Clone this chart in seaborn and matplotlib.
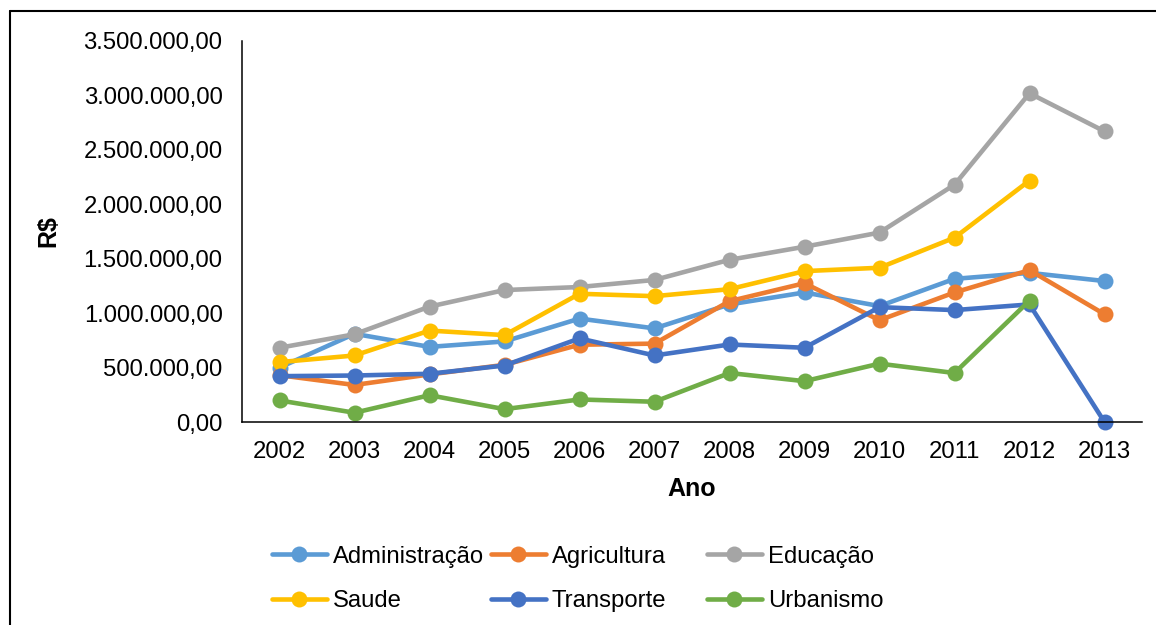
import matplotlib
matplotlib.use("Agg")
import matplotlib.pyplot as plt
import numpy as np
import pandas as pd
import seaborn as sns
from matplotlib.lines import Line2D
from matplotlib.ticker import FuncFormatter, MultipleLocator

# Despesas por função (R$), 2002–2013
anos = [2002, 2003, 2004, 2005, 2006, 2007, 2008, 2009, 2010, 2011, 2012, 2013]
administracao = [500000, 810000, 690000, 740000, 950000, 860000, 1080000, 1190000, 1065000, 1315000, 1370000, 1295000]
agricultura = [430000, 340000, 437000, 525000, 710000, 720000, 1110000, 1275000, 935000, 1190000, 1395000, 990000]
educacao = [682000, 806000, 1060000, 1212000, 1240000, 1305000, 1490000, 1610000, 1740000, 2180000, 3020000, 2670000]
saude = [550000, 611000, 840000, 798000, 1178000, 1156000, 1220000, 1386000, 1417000, 1693000, 2218000, np.nan]
transporte = [421000, 427000, 443000, 519000, 768000, 611000, 712000, 682000, 1055000, 1028000, 1080000, 0]
urbanismo = [198000, 85000, 246000, 118000, 207000, 186000, 450000, 375000, 536000, 450000, 1115000, np.nan]

setores = ["Administração", "Agricultura", "Educação", "Saude", "Transporte", "Urbanismo"]
cores = ["#5B9BD5", "#ED7D31", "#A5A5A5", "#FFC000", "#4472C4", "#70AD47"]
series = [administracao, agricultura, educacao, saude, transporte, urbanismo]

df = pd.concat(
    [pd.DataFrame({"Ano": anos, "Setor": nome, "Valor": vals}) for nome, vals in zip(setores, series)],
    ignore_index=True,
).dropna()

sns.set_style("white")
plt.rcParams["font.family"] = ["Liberation Sans", "DejaVu Sans"]
plt.rcParams["text.color"] = "black"
plt.rcParams["axes.labelcolor"] = "black"

W, H = 1156, 625
fig = plt.figure(figsize=(W / 100, H / 100), dpi=100)
ax = fig.add_axes([242 / W, 1 - 422 / H, (1142 - 242) / W, (422 - 41) / H])

sns.lineplot(
    data=df, x="Ano", y="Valor", hue="Setor", hue_order=setores,
    palette=dict(zip(setores, cores)), marker="o", markersize=11.5,
    markeredgewidth=0, linewidth=3.3, ax=ax, sort=True, clip_on=False,
)

ax.set_xlim(2001.5, 2013.5)
ax.set_ylim(0, 3500000)
ax.set_xticks(anos)
ax.yaxis.set_major_locator(MultipleLocator(500000))


def brl(v, pos):
    s = f"{v:,.2f}"
    return s.replace(",", "X").replace(".", ",").replace("X", ".")


ax.yaxis.set_major_formatter(FuncFormatter(brl))
ax.tick_params(axis="both", length=0, labelsize=17.2, colors="black")
ax.tick_params(axis="y", pad=14)
ax.tick_params(axis="x", pad=14)

for side in ("top", "right"):
    ax.spines[side].set_visible(False)
for side in ("left", "bottom"):
    ax.spines[side].set_color("black")
    ax.spines[side].set_linewidth(1.1)
ax.grid(False)

ax.set_xlabel("Ano", fontsize=18, fontweight="bold", labelpad=10)
ax.set_ylabel("R$", fontsize=18, fontweight="bold")
ax.yaxis.set_label_coords((60 - 242) / (1142 - 242), 0.5)

handles, labels = ax.get_legend_handles_labels()
ax.get_legend().remove()
hmap = dict(zip(labels, handles))

colunas = [("Administração", "Saude"), ("Agricultura", "Transporte"), ("Educação", "Urbanismo")]
xs = [272, 491, 707]
for (a, b), x0 in zip(colunas, xs):
    fig.legend(
        [hmap[a], hmap[b]], [a, b], loc="center left",
        bbox_to_anchor=(x0 / W, 1 - 579 / H), frameon=False, fontsize=17.2,
        borderpad=0, borderaxespad=0, handlelength=2.3, handletextpad=0.25,
        labelspacing=0.95,
    )

# moldura do gráfico
fig.add_artist(Line2D([10 / W, 1.0], [1 - 11 / H] * 2, transform=fig.transFigure, color="black", lw=1.5))
fig.add_artist(Line2D([10 / W] * 2, [0, 1 - 11 / H], transform=fig.transFigure, color="black", lw=1.5))

fig.savefig("out.png", dpi=100)
